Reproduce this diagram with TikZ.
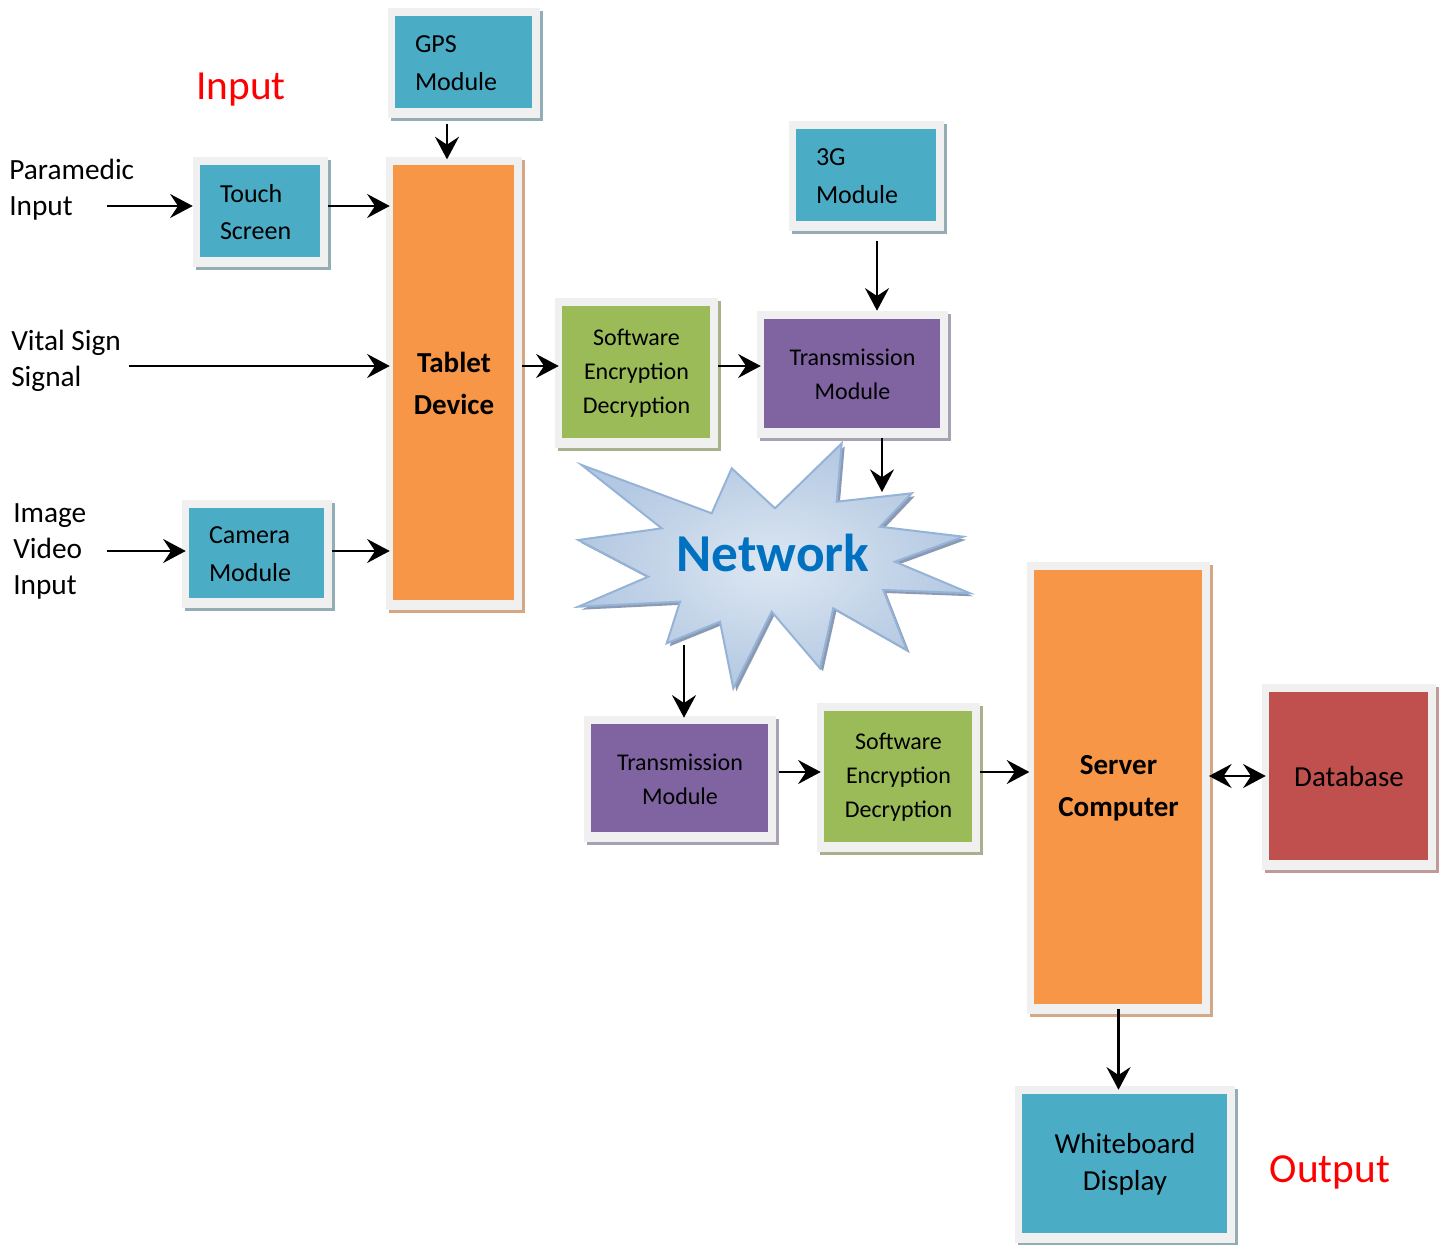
\documentclass[tikz,border=0pt]{standalone}
\usepackage{fontspec}
\setmainfont{Carlito}
\usetikzlibrary{arrows.meta,shadows}

\definecolor{cFrame}{HTML}{F0F0F0}
\definecolor{cTeal}{HTML}{4BACC6}
\definecolor{sTeal}{HTML}{93ADB5}
\definecolor{cOrange}{HTML}{F79646}
\definecolor{sOrange}{HTML}{D4A887}
\definecolor{cGreen}{HTML}{9BBB59}
\definecolor{sGreen}{HTML}{A7B28C}
\definecolor{cPurple}{HTML}{8064A2}
\definecolor{sPurple}{HTML}{A8A0B3}
\definecolor{cRed}{HTML}{C0504D}
\definecolor{sRed}{HTML}{C09A9A}
\definecolor{cNetIn}{HTML}{DDE7F2}
\definecolor{cNetOut}{HTML}{B3C8E2}
\definecolor{cNetLine}{HTML}{95B3D7}
\definecolor{cNetShadow}{HTML}{8A9AB3}
\definecolor{cNetText}{HTML}{0070C0}

\newcommand\netburst{(581.7,465) -- (711.7,513.3) -- (731.7,468.3) -- (775,508.3)
  -- (841.7,443.3) -- (836.7,501.7) -- (911.7,493.3) -- (880,526.7)
  -- (963.3,536.7) -- (895,561.7) -- (970,593.3) -- (883.3,590)
  -- (906.7,650) -- (833.3,608.3) -- (820,668.3) -- (771.7,611.7)
  -- (733.3,688.3) -- (720,621.7) -- (666.7,643.3) -- (680,601.7)
  -- (578.3,606.7) -- (648.3,576.7) -- (578.3,540) -- (661.7,528.3) -- cycle}

\tikzset{
  blk/.style 2 args={draw=none, fill=cFrame, inner sep=0pt, align=center,
    general shadow={fill=#2, shadow xshift=2.5pt, shadow yshift=-2.5pt},
    path picture={\fill[#1]
      ([shift={(5.25pt,7.5pt)}]path picture bounding box.south west) rectangle
      ([shift={(-6pt,-6pt)}]path picture bounding box.north east);}},
  tealbox/.style={blk={cTeal}{sTeal}},
  orangebox/.style={blk={cOrange}{sOrange}},
  greenbox/.style={blk={cGreen}{sGreen}},
  purplebox/.style={blk={cPurple}{sPurple}},
  redbox/.style={blk={cRed}{sRed}},
  dims/.style 2 args={minimum width=#1, minimum height=#2},
  lefttext/.style={align=left, text width=#1},
  txtA/.style={font=\fontsize{19.5}{28}\selectfont},
  txtB/.style={font=\fontsize{18}{25.5}\selectfont},
  txtBold/.style={font=\fontsize{21.75}{31.5}\selectfont\bfseries},
  txtC/.style={font=\fontsize{21.75}{28}\selectfont},
  lbl/.style={align=left, inner sep=0pt, font=\fontsize{22}{27}\selectfont},
  title/.style={text=red, inner sep=0pt, font=\fontsize{31}{36}\selectfont},
  arr/.style={draw=black, line width=1.8pt,
    -{Stealth[length=17pt,width=18pt,inset=6pt]}},
  dblarr/.style={draw=black, line width=1.8pt,
    {Stealth[length=17pt,width=18pt,inset=6pt]}-{Stealth[length=17pt,width=18pt,inset=6pt]}},
}

\begin{document}
\begin{tikzpicture}[x=0.75pt, y=-0.75pt]
\useasboundingbox (0,0) rectangle (1445,1245);

% titles
\node[title] (tin) at (241,90) {Input};
\node[title] (tout) at (1330,1172) {Output};

% input labels
\node[lbl, anchor=west] (pm) at (9,190) {Paramedic\\Input};
\node[lbl, anchor=west] (vs) at (11,361) {Vital Sign\\Signal};
\node[lbl, anchor=west] (iv) at (13,551) {Image\\Video\\Input};

% mobile side blocks
\node[tealbox, dims={114pt}{82.5pt}, txtA, lefttext=73.5pt] (gps) at (464,63) {GPS\\Module};
\node[tealbox, dims={101.25pt}{82.5pt}, txtA, lefttext=60.75pt] (touch) at (260.5,212) {Touch\\Screen};
\node[orangebox, dims={102pt}{339.75pt}, txtBold] (tablet) at (454,383.5) {Tablet\\Device};
\node[tealbox, dims={112.5pt}{81pt}, txtA, lefttext=72pt] (camera) at (257,554) {Camera\\Module};
\node[greenbox, dims={122.25pt}{112.5pt}, txtB] (swT) at (636.5,373) {Software\\Encryption\\Decryption};
\node[tealbox, dims={116.25pt}{82.5pt}, txtA, lefttext=75.75pt] (g3) at (866.5,176) {3G\\Module};
\node[purplebox, dims={143.25pt}{95.25pt}, txtB] (trT) at (852.5,374.5) {Transmission\\Module};

% network cloud
\fill[cNetShadow] [shift={(3,3)}] \netburst;
\path[draw=cNetLine, line width=1.5pt, inner color=cNetIn, outer color=cNetOut] \netburst;
\node[text=cNetText, font=\fontsize{40}{44}\selectfont\bfseries] (net) at (773,553) {Network};

% server side blocks
\node[purplebox, dims={144pt}{94.5pt}, txtB] (trB) at (680,779) {Transmission\\Module};
\node[greenbox, dims={122.25pt}{111.75pt}, txtB] (swB) at (898.5,777.5) {Software\\Encryption\\Decryption};
\node[orangebox, dims={137.25pt}{339pt}, txtBold] (server) at (1118.5,788) {Server\\Computer};
\node[redbox, dims={130.5pt}{139.5pt}, txtC] (db) at (1349,777) {Database};
\node[tealbox, dims={165pt}{117.75pt}, txtC] (wb) at (1125,1164.5) {Whiteboard\\Display};

% connector anchors
\coordinate (pmIn) at (107,206);
\coordinate (vsIn) at (129,366);
\coordinate (ivIn) at (107,551);
\coordinate (gx) at (447,0);
\coordinate (tx) at (877,0);
\coordinate (netIn) at (882,492);
\coordinate (netOut) at (684,645);
\coordinate (yb) at (0,772);
\coordinate (yd) at (0,776);

% connectors
\draw[arr] (pmIn) -- (touch.west |- pmIn);
\draw[arr] (touch.east |- pmIn) -- ([xshift=3pt]tablet.west |- pmIn);
\draw[arr] (vsIn) -- ([xshift=3pt]tablet.west |- vsIn);
\draw[arr] (ivIn) -- ([xshift=3pt]camera.west |- ivIn);
\draw[arr] (camera.east |- ivIn) -- ([xshift=3pt]tablet.west |- ivIn);
\draw[arr, shorten <=4pt] (gps.south -| gx) -- ([yshift=-2pt]tablet.north -| gx);
\draw[arr] (tablet.east |- vsIn) -- ([xshift=3pt]swT.west |- vsIn);
\draw[arr] (swT.east |- vsIn) -- ([xshift=3pt]trT.west |- vsIn);
\draw[arr, shorten <=7.5pt] (g3.south -| tx) -- (trT.north -| tx);
\draw[arr] (trT.south -| netIn) -- (netIn);
\draw[arr] (netOut) -- ([yshift=-1.5pt]trB.north -| netOut);
\draw[arr, shorten <=2pt] (trB.east |- yb) -- ([xshift=3pt]swB.west |- yb);
\draw[arr] (swB.east |- yb) -- ([xshift=2pt]server.west |- yb);
\draw[dblarr] ([xshift=-1pt]server.east |- yd) -- ([xshift=3pt]db.west |- yd);
\draw[arr, shorten <=-4pt] (server.south) -- ([yshift=-3pt]wb.north -| server.south);
\end{tikzpicture}
\end{document}
